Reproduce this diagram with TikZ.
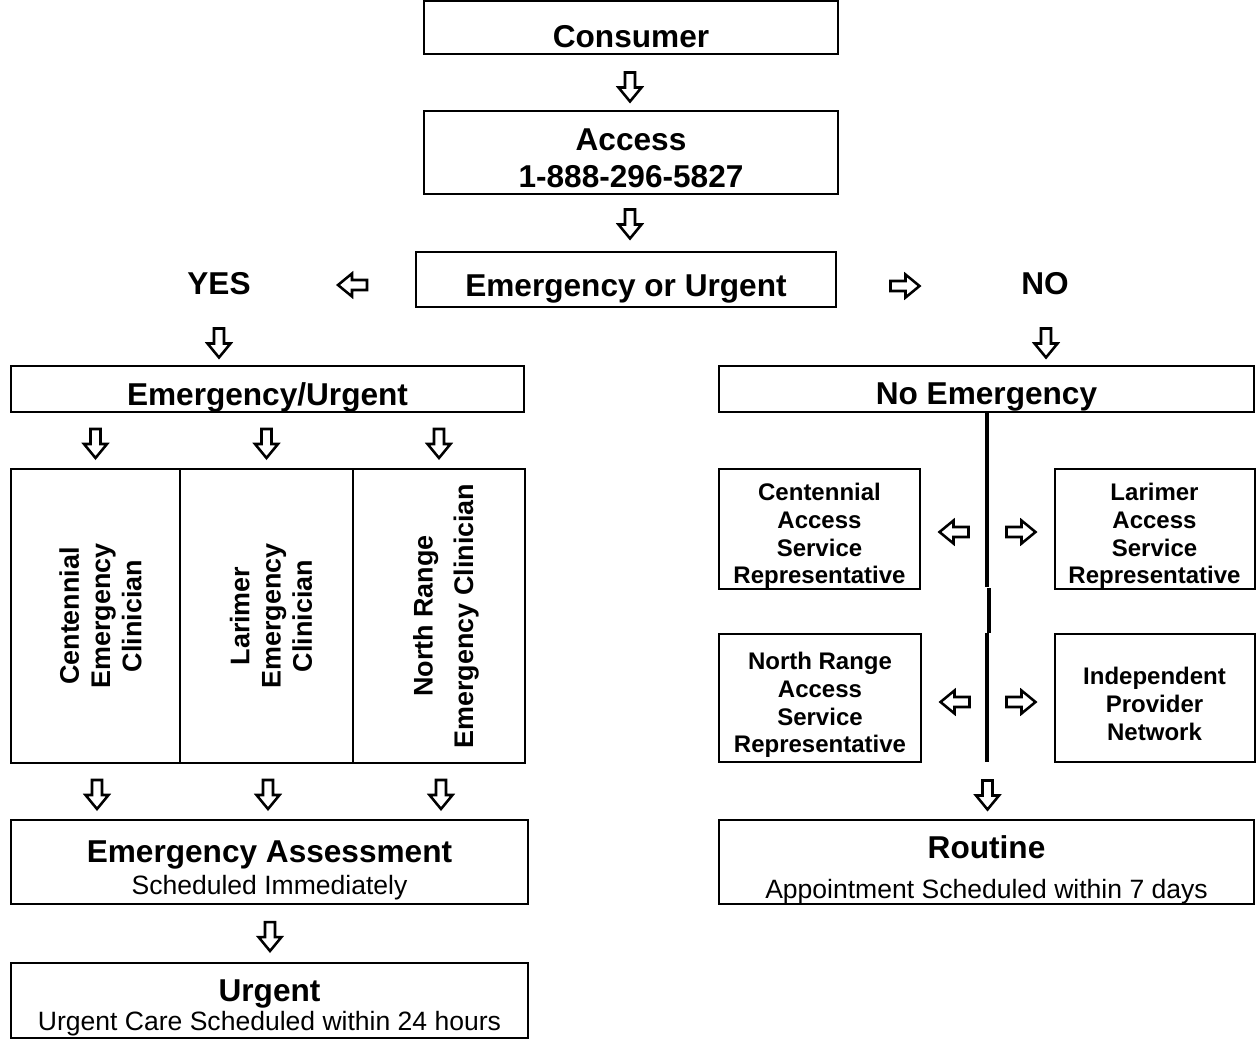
\documentclass[tikz,border=0pt]{standalone}
\usepackage{fontspec}
\setmainfont{Liberation Sans}
\newlength\pxu \setlength\pxu{0.75pt}
\newcommand\headfont{\bfseries\fontsize{23.7}{27.75}\selectfont}
\newcommand\smallreg{\mdseries\fontsize{19.9}{24}\selectfont}
\newcommand\repfont{\bfseries\fontsize{18}{20.8}\selectfont}
\newcommand\colfont{\bfseries\fontsize{20.2}{23.5}\selectfont}
\tikzset{
  box/.style={draw, line width=1.5pt, inner sep=0pt},
  txt/.style={inner sep=0pt, align=center, font=\headfont},
  reptxt/.style={txt, font=\repfont},
  coltxt/.style={txt, rotate=90, font=\colfont},
  vline/.style={line width=2.6pt},
  blockarrow/.pic={\draw[line width=1.9pt, line join=miter, fill=white]
    (-14.5,-5) -- (0.5,-5) -- (0.5,-11.5) -- (14.5,0) -- (0.5,11.5) -- (0.5,5) -- (-14.5,5) -- cycle;}
}
\begin{document}
\begin{tikzpicture}[x=0.75pt, y=-0.75pt]
\useasboundingbox (0,0) rectangle (1256,1040);

% top chain
\node[box, minimum width=414\pxu, minimum height=53\pxu] (consumer) at (631,27.5) {};
\node[txt] (consumer-t) at (631,36.5) {Consumer};
\pic[rotate=-90] (a1) at (630,87) {blockarrow};
\node[box, minimum width=414\pxu, minimum height=83\pxu] (access) at (631,152.5) {};
\node[txt] (access-t) at (631,158.5) {Access\\1-888-296-5827};
\pic[rotate=-90] (a2) at (630,224) {blockarrow};
\node[box, minimum width=420\pxu, minimum height=55\pxu] (emerg) at (626,279.5) {};
\node[txt] (emerg-t) at (626,288.5) {Emergency or Urgent};

\node[txt] (yes) at (219,284) {YES};
\node[txt] (no) at (1045,284) {NO};
\pic[rotate=180] (ayes) at (352.5,285) {blockarrow};
\pic (ano) at (905,286) {blockarrow};
\pic[rotate=-90] (ayesd) at (219,343) {blockarrow};
\pic[rotate=-90] (anod) at (1046,343) {blockarrow};

% left branch
\node[box, minimum width=513\pxu, minimum height=46\pxu] (eu) at (267.5,389) {};
\node[txt] (eu-t) at (267.5,397) {Emergency/Urgent};
\pic[rotate=-90] (c1a) at (95.5,443.5) {blockarrow};
\pic[rotate=-90] (c2a) at (266.5,443.5) {blockarrow};
\pic[rotate=-90] (c3a) at (439,443.5) {blockarrow};
\node[box, minimum width=169\pxu, minimum height=294\pxu] (col1) at (95.5,616) {};
\node[box, minimum width=173\pxu, minimum height=294\pxu] (col2) at (266.5,616) {};
\node[box, minimum width=172\pxu, minimum height=294\pxu] (col3) at (439,616) {};
\node[coltxt] (col1-t) at (100.5,616) {Centennial\\Emergency\\Clinician};
\node[coltxt] (col2-t) at (271,616) {Larimer\\Emergency\\Clinician};
\node[coltxt] (col3-t) at (446,616) {North Range\\[7pt]Emergency Clinician};
\pic[rotate=-90] (c1b) at (97,794.5) {blockarrow};
\pic[rotate=-90] (c2b) at (268,794.5) {blockarrow};
\pic[rotate=-90] (c3b) at (441,794.5) {blockarrow};
\node[box, minimum width=517\pxu, minimum height=84\pxu] (assess) at (269.5,862) {};
\node[txt] (assess-t) at (269.5,870.5) {Emergency Assessment\\[-3.75pt]\smallreg Scheduled Immediately};
\pic[rotate=-90] (a3) at (270,936.5) {blockarrow};
\node[box, minimum width=517\pxu, minimum height=75\pxu] (urgent) at (269.5,1000.5) {};
\node[txt] (urgent-t) at (269.5,1007.5) {Urgent\\[-6pt]\smallreg Urgent Care Scheduled within 24 hours};

% right branch
\node[box, minimum width=535\pxu, minimum height=46\pxu] (ne) at (986.5,389) {};
\node[txt] (ne-t) at (986.5,397) {No Emergency};
\coordinate (v0) at (987,412);
\coordinate (v1) at (987,587);
\coordinate (v2) at (989,588);
\coordinate (v3) at (989,633);
\coordinate (v4) at (987,633);
\coordinate (v5) at (987,762);
\draw[vline] (v0) -- (v1);
\draw[vline] (v2) -- (v3);
\draw[vline] (v4) -- (v5);

\node[box, minimum width=201\pxu, minimum height=120\pxu] (cen) at (819.5,529) {};
\node[reptxt] (cen-t) at (819.5,536) {Centennial\\Access\\Service\\Representative};
\node[box, minimum width=200\pxu, minimum height=120\pxu] (lar) at (1154.5,529) {};
\node[reptxt] (lar-t) at (1154.5,536) {Larimer\\Access\\Service\\Representative};
\node[box, minimum width=202\pxu, minimum height=128\pxu] (nr) at (820,698) {};
\node[reptxt] (nr-t) at (820,705) {North Range\\Access\\Service\\Representative};
\node[box, minimum width=200\pxu, minimum height=128\pxu] (ipn) at (1154.5,698) {};
\node[reptxt] (ipn-t) at (1154.5,704) {Independent\\Provider\\Network};
\pic[rotate=180] (al1) at (954,532) {blockarrow};
\pic (ar1) at (1021,532) {blockarrow};
\pic[rotate=180] (al2) at (955,702) {blockarrow};
\pic (ar2) at (1021,702) {blockarrow};
\pic[rotate=-90] (a4) at (987.5,795) {blockarrow};
\node[box, minimum width=535\pxu, minimum height=84\pxu] (routine) at (986.5,862) {};
\node[txt] (routine-t) at (986.5,870) {Routine\\[2.5pt]\smallreg Appointment Scheduled within 7 days};
\end{tikzpicture}
\end{document}
